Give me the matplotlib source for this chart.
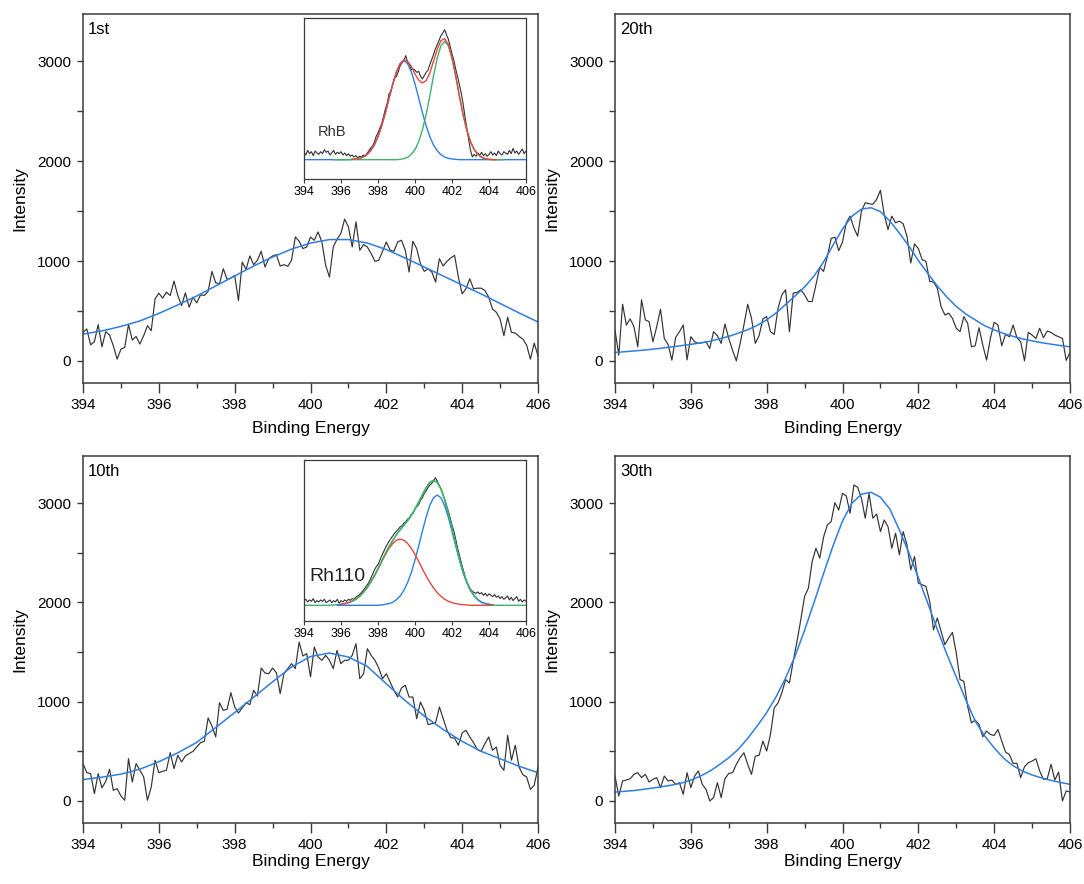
import numpy as np
import matplotlib
matplotlib.use("Agg")
import matplotlib.pyplot as plt
from matplotlib.ticker import MultipleLocator

plt.rcParams['font.family'] = ['Liberation Sans', 'DejaVu Sans']

# binding energy grids (eV)
energy = np.linspace(394, 406, 121)        # measured spectra, 0.1 eV step
energy_half = np.linspace(394, 406, 25)    # broad fits, 0.5 eV step
energy_quarter = np.linspace(394, 406, 49) # narrower fits, 0.25 eV step
energy_inset = np.linspace(394, 406, 61)   # inset fit components, 0.2 eV step

# ---- 1st cycle
first_data = [285, 319, 161, 191, 363, 141, 292, 258, 151, 17,
              117, 134, 363, 208, 245, 168, 252, 352, 302, 621,
              678, 628, 688, 655, 799, 655, 554, 681, 537, 638,
              581, 661, 655, 695, 896, 782, 772, 923, 816, 829,
              856, 604, 990, 916, 1051, 963, 1007, 1098, 940, 1024,
              1051, 1064, 950, 963, 947, 1007, 1242, 1198, 1125, 1141,
              1240, 1208, 1292, 1191, 957, 839, 1141, 1218, 1275, 1420,
              1343, 1141, 1393, 1108, 1165, 1141, 1074, 997, 1007, 1098,
              1191, 1108, 1098, 1191, 1208, 1108, 890, 1198, 1125, 974,
              896, 923, 890, 789, 1024, 950, 997, 1031, 1057, 839,
              671, 722, 822, 722, 728, 728, 705, 638, 520, 487,
              420, 252, 436, 285, 279, 245, 218, 158, 17, 178, 50]
first_fit = [268, 300, 345, 400, 475, 560, 650, 750, 850, 950, 1040, 1120, 1180,
             1215, 1215, 1180, 1115, 1030, 940, 850, 760, 670, 575, 480, 390]

# ---- 20th cycle
twentieth_data = [309, 57, 567, 359, 420, 342, 141, 611, 410, 393,
                  191, 342, 517, 225, 164, 7, 235, 292, 359, 10,
                  242, 191, 175, 181, 191, 124, 292, 252, 175, 369,
                  225, 107, 0, 175, 359, 567, 426, 175, 252, 420,
                  443, 292, 265, 527, 661, 712, 292, 678, 685, 712,
                  661, 594, 594, 762, 937, 896, 1047, 1225, 1239, 1104,
                  1190, 1383, 1450, 1333, 1249, 1501, 1584, 1574, 1568, 1618,
                  1709, 1467, 1316, 1450, 1383, 1400, 1373, 1249, 980, 1172,
                  1125, 1014, 997, 796, 789, 728, 544, 460, 477, 426,
                  326, 292, 443, 376, 141, 151, 332, 158, 7, 225,
                  386, 359, 151, 265, 242, 359, 232, 191, 0, 285,
                  258, 225, 326, 232, 299, 285, 258, 242, 225, 5, 84]
twentieth_fit = [84, 91, 99, 107, 117, 128, 140, 152, 165, 180, 196, 220, 245,
                 277, 312, 355, 410, 480, 565, 650, 740, 850, 990, 1160, 1320,
                 1450, 1520, 1534, 1495, 1400, 1280, 1150, 1005, 875, 750, 640,
                 545, 470, 410, 352, 310, 274, 245, 220, 200, 182, 167, 153, 141]

# ---- 10th cycle
tenth_data = [376, 285, 275, 74, 275, 131, 198, 319, 107, 124,
              50, 7, 426, 191, 376, 309, 242, 7, 141, 410,
              285, 299, 309, 487, 326, 460, 393, 453, 477, 500,
              544, 587, 601, 836, 755, 645, 990, 913, 923, 1091,
              947, 886, 937, 990, 970, 1115, 1057, 1339, 1289, 1282,
              1339, 1292, 1081, 1282, 1333, 1383, 1333, 1601, 1460, 1484,
              1250, 1551, 1450, 1417, 1467, 1417, 1333, 1517, 1383, 1417,
              1417, 1467, 1584, 1232, 1282, 1534, 1467, 1417, 1339, 1232,
              1282, 1198, 1115, 1047, 1138, 1165, 1047, 1047, 829, 997,
              913, 769, 779, 789, 947, 829, 712, 638, 634, 561,
              685, 712, 645, 587, 517, 500, 577, 645, 510, 544,
              359, 309, 661, 410, 561, 342, 265, 242, 117, 158, 342]
tenth_fit = [215, 240, 270, 320, 395, 485, 590, 740, 890, 1045, 1200, 1350, 1455,
             1490, 1450, 1355, 1180, 1010, 855, 720, 600, 500, 425, 350, 285]

# ---- 30th cycle
thirtieth_data = [251, 50, 201, 211, 224, 268, 285, 235, 268, 191,
                  218, 235, 134, 251, 201, 211, 168, 184, 67, 285,
                  134, 251, 302, 168, 117, 0, 34, 184, 34, 224,
                  278, 285, 369, 436, 486, 369, 268, 452, 459, 603,
                  503, 670, 938, 988, 1089, 1223, 1189, 1407, 1608, 1826,
                  2060, 2144, 2412, 2546, 2446, 2657, 2781, 2814, 3005, 2931,
                  3099, 3072, 2898, 3183, 3159, 3049, 2848, 3099, 2848, 2891,
                  2714, 2831, 2764, 2546, 2697, 2479, 2714, 2580, 2328, 2462,
                  2194, 2178, 2161, 2010, 1725, 1843, 1709, 1575, 1642, 1698,
                  1491, 1223, 1206, 955, 787, 814, 771, 647, 704, 670,
                  660, 720, 603, 492, 469, 379, 379, 235, 345, 385,
                  402, 425, 302, 218, 224, 369, 211, 291, 0, 101, 90]
thirtieth_fit = [90, 97, 105, 117, 130, 145, 160, 180, 210, 250, 300, 365, 435,
                 520, 630, 755, 890, 1050, 1240, 1460, 1720, 2000, 2290, 2570, 2820,
                 3000, 3090, 3110, 3060, 2940, 2730, 2500, 2250, 1990, 1730, 1480,
                 1250, 1020, 805, 655, 535, 430, 355, 300, 262, 232, 207, 186, 168]

# ---- RhB inset (arbitrary units)
rhb_data = [22, 14, 28, 18, 24, 12, 26, 20, 16, 24,
            18, 30, 22, 26, 14, 20, 28, 16, 22, 18,
            24, 14, 20, 12, 18, 10, 14, 8, 12, 6,
            10, 8, 14, 10, 18, 26, 35, 40, 52, 70,
            80, 95, 108, 130, 152, 170, 198, 205, 228, 245,
            250, 265, 282, 290, 298, 312, 292, 285, 270, 272,
            268, 262, 265, 250, 242, 252, 262, 268, 285, 300,
            315, 332, 345, 358, 372, 380, 390, 375, 362, 340,
            318, 298, 272, 250, 225, 200, 168, 130, 95, 60,
            28, 8, 16, 10, 20, 14, 22, 12, 18, 10,
            16, 24, 14, 20, 12, 26, 18, 14, 24, 20,
            16, 28, 18, 34, 20, 26, 16, 24, 32, 18, 26]
rhb_blue = [0, 0, 0, 0, 0, 0, 0, 0, 0, 0, 0, 0, 0,
            1, 2, 4, 8, 15, 27, 44, 69, 102, 141, 185, 227, 264, 288, 297,
            288, 264, 227, 185, 141, 102, 69, 44, 27, 15, 8, 4, 2, 1,
            0, 0, 0, 0, 0, 0, 0, 0, 0, 0, 0, 0, 0, 0, 0, 0, 0, 0, 0]
rhb_green = [0, 0, 0, 0, 0, 0, 0, 0, 0, 0, 0, 0, 0, 0, 0, 0, 0, 0,
             1, 3, 7, 16, 30, 54, 89, 135, 191, 251, 304, 342, 355,
             342, 304, 251, 191, 135, 89, 54, 30, 16, 7, 3, 1,
             0, 0, 0, 0]
rhb_red = [1, 2, 4, 8, 15, 27, 44, 69, 102, 141, 185, 227, 264, 289, 300, 295,
           280, 257, 239, 230, 237, 260, 295, 331, 357, 363, 346, 306, 252, 191,
           135, 89, 54, 30, 16, 7, 3, 1, 0, 0]

# ---- Rh110 inset (arbitrary units)
rh110_data = [14, 18, 10, 16, 12, 20, 8, 14, 10, 16,
              12, 18, 8, 12, 16, 8, 14, 10, 18, 6,
              14, 10, 16, 12, 18, 15, 20, 18, 24, 28,
              32, 38, 45, 52, 60, 68, 80, 92, 105, 115,
              122, 135, 148, 160, 172, 182, 192, 200, 208, 216,
              222, 228, 235, 238, 246, 250, 258, 262, 272, 275,
              290, 295, 302, 315, 322, 335, 342, 352, 360, 365,
              372, 382, 372, 360, 350, 335, 318, 300, 282, 262,
              240, 222, 198, 172, 150, 128, 108, 88, 70, 58,
              48, 42, 38, 36, 40, 34, 38, 30, 36, 28,
              34, 30, 26, 32, 24, 28, 20, 26, 18, 22,
              28, 16, 24, 14, 20, 26, 12, 18, 10, 16, 12]
rh110_red = [3, 5, 8, 12, 18, 27, 38, 52, 69, 88, 109, 131, 152, 171, 185, 195,
             198, 195, 185, 171, 152, 131, 109, 88, 69, 52, 38, 27, 18, 12, 8,
             5, 3, 2, 1, 0, 0, 0, 0, 0, 0, 0]
rh110_blue = [0, 0, 0, 0, 0, 0, 0, 0, 0, 0, 0, 0,
              1, 3, 5, 9, 17, 28, 45, 68, 98, 136, 178, 222, 264, 299, 322, 330,
              322, 299, 264, 222, 178, 136, 98, 68, 45, 28, 17, 9, 5, 3, 1]
rh110_green = [0, 0, 0, 0, 0, 0, 0, 0,
               1, 2, 3, 5, 8, 12, 18, 27, 38, 52, 69, 88, 109, 132, 155, 176,
               194, 212, 226, 240, 253, 269, 288, 309, 331, 352, 368, 374, 368,
               349, 317, 276, 230, 183, 139, 100, 69, 45, 28, 17, 9, 5, 3, 1,
               0, 0, 0, 0, 0, 0, 0, 0, 0]

DATA_COLOR = '#333333'
BLUE = '#2f7de1'
GREEN = '#3db36a'
RED = '#e8453c'
FRAME = '#3a3a3a'

fig = plt.figure(figsize=(10.84, 8.84), dpi=100)
W, H = 1084, 884


def rect(x0, y0, x1, y1):
    # pixel box (top-left origin) -> figure fraction
    return [x0 / W, 1 - y1 / H, (x1 - x0) / W, (y1 - y0) / H]


def main_panel(box, data, fit_x, fit, label, xlabel_y):
    ax = fig.add_axes(box)
    ax.plot(energy, data, color=DATA_COLOR, lw=0.85)
    ax.plot(fit_x, fit, color=BLUE, lw=1.1)
    ax.set_xlim(394, 406)
    ax.set_ylim(-222, 3475)
    ax.set_xticks(range(394, 407, 2))
    ax.xaxis.set_minor_locator(MultipleLocator(1))
    ax.set_yticks([0, 1000, 2000, 3000])
    ax.yaxis.set_minor_locator(MultipleLocator(500))
    ax.tick_params(axis='x', which='major', direction='out', length=7, width=1,
                   labelsize=11, pad=4, color=FRAME)
    ax.tick_params(axis='x', which='minor', direction='out', length=3.5, width=1,
                   color=FRAME)
    ax.tick_params(axis='y', which='both', direction='out', length=4.5, width=1,
                   labelsize=11, pad=4, color=FRAME)
    for s in ax.spines.values():
        s.set_color(FRAME)
        s.set_linewidth(1.1)
    ax.set_xlabel('Binding Energy', fontsize=12.5)
    ax.xaxis.set_label_coords(0.5, xlabel_y)
    ax.xaxis.label.set_va('center')
    ax.set_ylabel('Intensity', fontsize=12.5)
    ax.yaxis.set_label_coords(-0.123, 0.5)
    ax.text(0.011, 0.978, label, transform=ax.transAxes, va='top', ha='left',
            fontsize=12)
    return ax


def inset_panel(box, ylim):
    ax = fig.add_axes(box)
    ax.set_xlim(394, 406)
    ax.set_ylim(*ylim)
    ax.set_xticks(range(394, 407, 2))
    ax.set_yticks([])
    ax.tick_params(axis='x', direction='out', length=3, width=0.8, labelsize=9,
                   pad=2, color=FRAME)
    for s in ax.spines.values():
        s.set_color(FRAME)
        s.set_linewidth(0.9)
    return ax


main_panel(rect(83, 14, 538, 383), first_data, energy_half, first_fit, '1st', -0.122)
main_panel(rect(615, 14, 1070, 383), twentieth_data, energy_quarter, twentieth_fit, '20th', -0.122)
main_panel(rect(83, 456, 538, 823), tenth_data, energy_half, tenth_fit, '10th', -0.104)
main_panel(rect(615, 456, 1070, 823), thirtieth_data, energy_quarter, thirtieth_fit, '30th', -0.104)

# RhB inset
ins1 = inset_panel(rect(304, 18, 526, 179), (-58, 425))
ins1.plot(energy, rhb_data, color=DATA_COLOR, lw=0.8)
ins1.plot(energy_inset, rhb_blue, color=BLUE, lw=1.0)
ins1.plot(energy_inset[8:55], rhb_green, color=GREEN, lw=1.0)
ins1.plot(energy_inset[13:53], rhb_red, color=RED, lw=1.0)
ins1.text(0.063, 0.29, 'RhB', transform=ins1.transAxes, va='center', ha='left',
          fontsize=10.5, color='#333333')

# Rh110 inset
ins2 = inset_panel(rect(304, 460, 526, 621), (-47, 435))
ins2.plot(energy, rh110_data, color=DATA_COLOR, lw=0.8)
ins2.plot(energy_inset, rh110_green, color=GREEN, lw=1.0)
ins2.plot(energy_inset[9:52], rh110_blue, color=BLUE, lw=1.0)
ins2.plot(energy_inset[10:52], rh110_red, color=RED, lw=1.0)
ins2.plot(energy_inset[13:48], rh110_green[13:48], color=GREEN, lw=1.0)
ins2.text(0.023, 0.275, 'Rh110', transform=ins2.transAxes, va='center', ha='left',
          fontsize=14, color='#222222')

fig.savefig('out.png', dpi=100)
